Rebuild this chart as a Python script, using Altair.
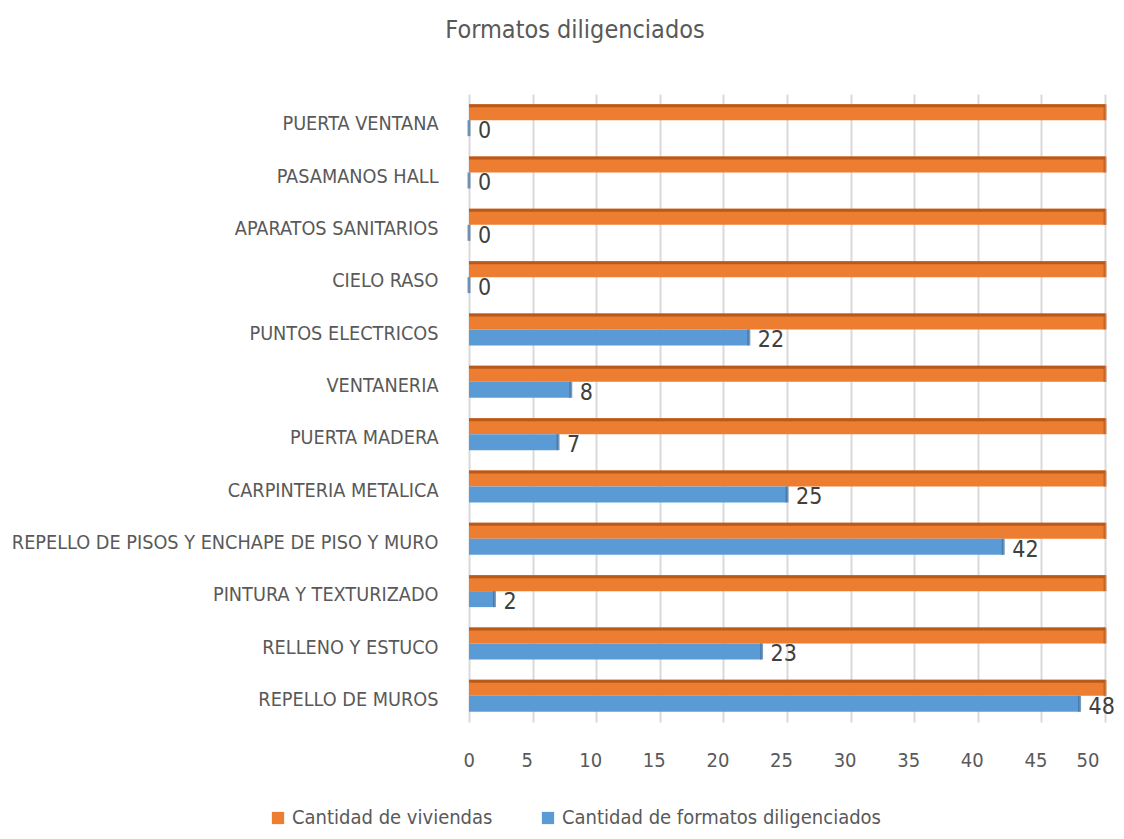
import altair as alt
import pandas as pd

categories = [
    "PUERTA VENTANA", "PASAMANOS HALL", "APARATOS SANITARIOS", "CIELO RASO",
    "PUNTOS ELECTRICOS", "VENTANERIA", "PUERTA MADERA", "CARPINTERIA METALICA",
    "REPELLO DE PISOS Y ENCHAPE DE PISO Y MURO", "PINTURA Y TEXTURIZADO",
    "RELLENO Y ESTUCO", "REPELLO DE MUROS",
]
viviendas = [50, 50, 50, 50, 50, 50, 50, 50, 50, 50, 50, 50]
formatos = [0, 0, 0, 0, 22, 8, 7, 25, 42, 2, 23, 48]
series = ["Cantidad de viviendas", "Cantidad de formatos diligenciados"]
x_ticks = [0, 5, 10, 15, 20, 25, 30, 35, 40, 45, 50]

rows = []
for c, v, f in zip(categories, viviendas, formatos):
    rows.append({"cat": c, "serie": series[0], "valor": v})
    rows.append({"cat": c, "serie": series[1], "valor": f})
df = pd.DataFrame(rows)

FONT = "DejaVu Sans Condensed"
GRAY = "#595959"
COLORS = ["#ED7D31", "#5B9BD5"]
DARK = ["#B95A1B", "#3E6E9C"]

y_enc = alt.Y("cat:N", sort=categories, title=None,
              scale=alt.Scale(paddingInner=0.39, paddingOuter=0.195),
              axis=alt.Axis(labelFont=FONT, labelFontSize=19.7, labelColor=GRAY,
                            labelPadding=31, labelOffset=4, ticks=False,
                            domain=False, grid=False, labelLimit=600))
x_enc = alt.X("valor:Q", title=None,
              scale=alt.Scale(domain=[0, 50], nice=False),
              axis=alt.Axis(values=x_ticks, labelFont=FONT, labelFontSize=20,
                            labelColor=GRAY, labelPadding=28, labelOffset=-6,
                            ticks=False, domain=False, gridColor="#d9d9d9",
                            gridWidth=2))
yoff = alt.YOffset("serie:N", sort=series)

base = alt.Chart(df)

bars = base.mark_bar().encode(
    y=y_enc,
    x=x_enc,
    yOffset=yoff,
    color=alt.Color("serie:N",
                    scale=alt.Scale(domain=series, range=COLORS),
                    legend=alt.Legend(title=None, orient="none", direction="horizontal",
                                      legendX=-201, legendY=714,
                                      labelFont=FONT, labelFontSize=20,
                                      labelColor=GRAY, symbolType="square",
                                      symbolSize=150, symbolStrokeWidth=0,
                                      columnPadding=45, labelOffset=4,
                                      labelLimit=500)),
)

# darker top face of the orange bars (3D look)
top_face = base.transform_filter(alt.datum.serie == series[0]).transform_calculate(
    zero="0"
).mark_rule(strokeWidth=3, color=DARK[0], yOffset=-14.5).encode(
    y=alt.Y("cat:N", sort=categories),
    x=alt.X("zero:Q"),
    x2="valor:Q",
)

# darker right face of every bar
edges = base.mark_tick(thickness=3, size=16).encode(
    y=alt.Y("cat:N", sort=categories),
    x="valor:Q",
    yOffset=yoff,
    color=alt.Color("serie:N", scale=alt.Scale(domain=series, range=DARK), legend=None),
)

labels = base.transform_filter(alt.datum.serie == series[1]).mark_text(
    align="left", baseline="middle", dx=9, dy=3, font=FONT, fontSize=23,
    color="#404040",
).encode(
    y=alt.Y("cat:N", sort=categories),
    x="valor:Q",
    yOffset=yoff,
    text="valor:Q",
)

chart = alt.layer(bars, top_face, edges, labels).resolve_scale(color="independent").properties(
    width=636,
    height=628,
    autosize="none",
    padding={"left": 461, "top": 86, "right": 11, "bottom": 109},
    title=alt.TitleParams("Formatos diligenciados", font=FONT, fontSize=25,
                          fontWeight="normal", color=GRAY, anchor="middle",
                          frame="group", dx=-212, offset=51),
).configure_view(stroke=None)

chart.save("out.html", embed_options={"renderer": "svg", "actions": False})
